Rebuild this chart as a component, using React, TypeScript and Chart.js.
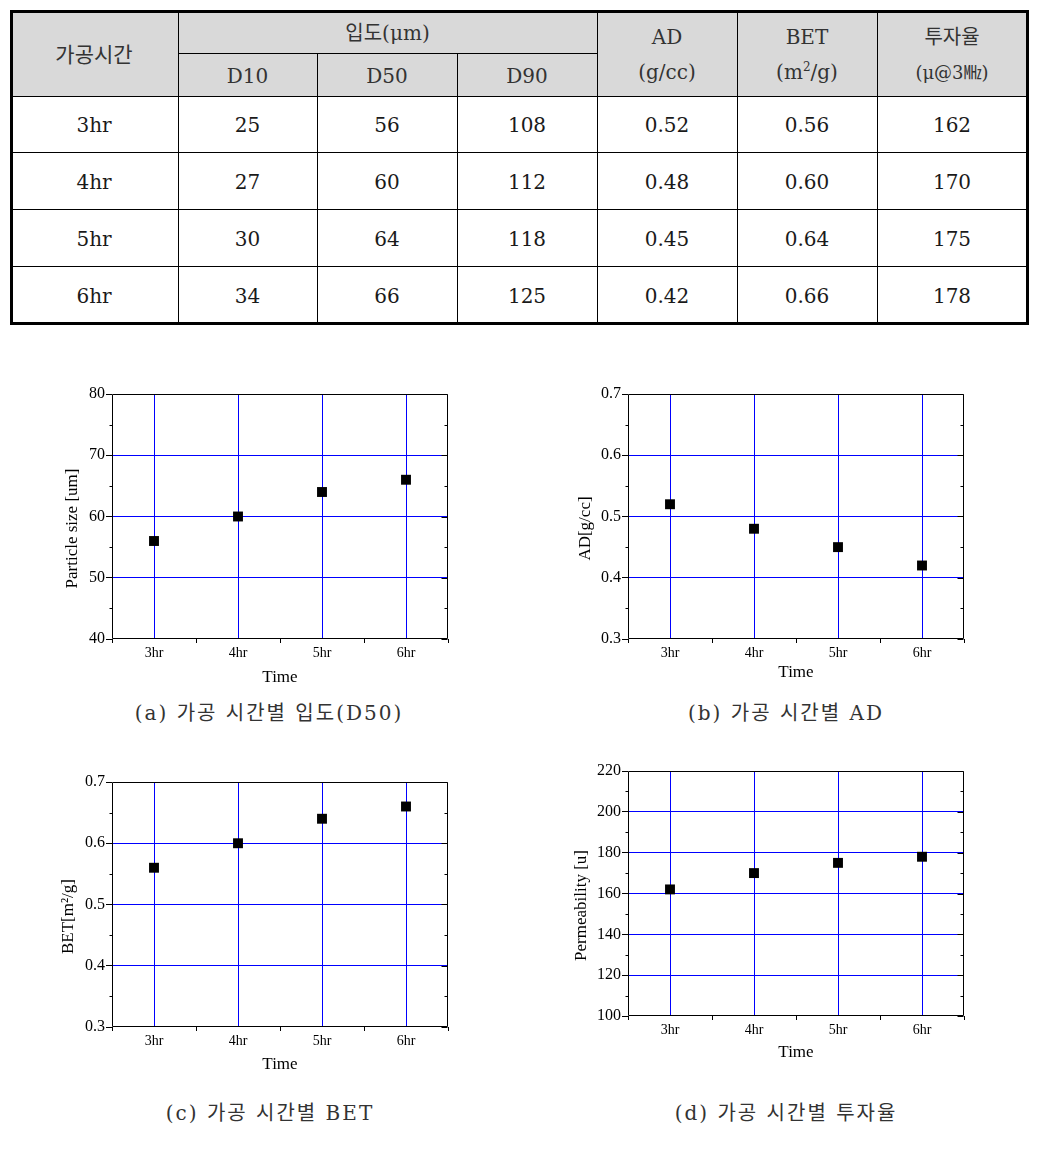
import React, { useEffect, useRef } from "react";
import { Chart, registerables } from "chart.js";

Chart.register(...registerables);

// ---------------- data ----------------
const timeLabels = ["3hr", "4hr", "5hr", "6hr"];
const timeHours = [3, 4, 5, 6];
const d10Values = [25, 27, 30, 34];
const d50Values = [56, 60, 64, 66];
const d90Values = [108, 112, 118, 125];
const adValues = [0.52, 0.48, 0.45, 0.42];
const betValues = [0.56, 0.6, 0.64, 0.66];
const permValues = [162, 170, 175, 178];

const FONT = '"Liberation Serif", "Times New Roman", serif';
const TABLE_FONT = '"DejaVu Serif", "Noto Sans CJK KR", serif';

type PanelSpec = {
  values: number[];
  yMin: number;
  yMax: number;
  yMinor: number;
  yMajor: number;
  decimals: number;
  yTitle: string;
  caption: string;
};

const panels: PanelSpec[] = [
  { values: d50Values, yMin: 40, yMax: 80, yMinor: 5, yMajor: 10, decimals: 0, yTitle: "Particle size [um]", caption: "(a) 가공 시간별 입도(D50)" },
  { values: adValues, yMin: 0.3, yMax: 0.7, yMinor: 0.05, yMajor: 0.1, decimals: 1, yTitle: "AD[g/cc]", caption: "(b) 가공 시간별 AD" },
  { values: betValues, yMin: 0.3, yMax: 0.7, yMinor: 0.05, yMajor: 0.1, decimals: 1, yTitle: "BET[m²/g]", caption: "(c) 가공 시간별 BET" },
  { values: permValues, yMin: 100, yMax: 220, yMinor: 10, yMajor: 20, decimals: 0, yTitle: "Permeability [u]", caption: "(d) 가공 시간별 투자율" },
];

const layouts = [
  { left: 50, top: 382, yWidth: 62, yTitleX: 23, xTitleY: 296, capX: 269, capY: 713 },
  { left: 560, top: 382, yWidth: 68, yTitleX: 26, xTitleY: 291, capX: 786, capY: 713 },
  { left: 50, top: 770, yWidth: 62, yTitleX: 19, xTitleY: 295, capX: 270, capY: 1113 },
  { left: 560, top: 759, yWidth: 68, yTitleX: 22, xTitleY: 294, capX: 786, capY: 1113 },
];

const PLOT_W = 336;
const PLOT_H = 245;
const PAD_TOP = 12;
const PAD_RIGHT = 12;
const X_BOX_H = 52;
const CANVAS_H = PAD_TOP + PLOT_H + X_BOX_H;

const isMajor = (v: number, step: number) => Math.abs(v / step - Math.round(v / step)) < 1e-6;

const framePlugin = {
  id: "frame",
  afterDraw(chart: any, _args: any, opts: any) {
    const { ctx, chartArea: a } = chart;
    const ys = chart.scales.y;
    const major = opts.major;
    ctx.save();
    ctx.strokeStyle = "#000";
    ctx.lineWidth = 1;
    const L = Math.round(a.left) + 0.5;
    const R = Math.round(a.right) - 0.5;
    const T = Math.round(a.top) + 0.5;
    const B = Math.round(a.bottom) - 0.5;
    ctx.beginPath();
    ctx.rect(L, T, R - L, B - T);
    ctx.stroke();
    ys.ticks.forEach((t: any) => {
      const y = Math.round(ys.getPixelForValue(t.value)) + 0.5;
      const mj = isMajor(t.value, major);
      ctx.beginPath();
      ctx.moveTo(R, y);
      ctx.lineTo(R - (mj ? 6 : 3), y);
      ctx.stroke();
      if (!mj) {
        ctx.beginPath();
        ctx.moveTo(L, y);
        ctx.lineTo(L - 3, y);
        ctx.stroke();
      }
    });
    ctx.restore();
  },
};

const yTitlePlugin = {
  id: "yTitle",
  afterDraw(chart: any, _args: any, opts: any) {
    if (!opts || !opts.text) return;
    const { ctx, chartArea: a } = chart;
    ctx.save();
    ctx.translate(opts.x, (a.top + a.bottom) / 2 + opts.shift);
    ctx.rotate(-Math.PI / 2);
    ctx.font = `${opts.size}px ${FONT}`;
    ctx.fillStyle = "#000";
    ctx.textAlign = "center";
    ctx.textBaseline = "middle";
    ctx.fillText(opts.text, 0, 0);
    ctx.restore();
  },
};

function ChartPanel({ spec, lay }: { spec: PanelSpec; lay: (typeof layouts)[number] }) {
  const ref = useRef<HTMLCanvasElement>(null);
  const width = lay.yWidth + PLOT_W + PAD_RIGHT;
  useEffect(() => {
    const xTitleOffset = CANVAS_H - lay.xTitleY;
    const chart = new Chart(ref.current as HTMLCanvasElement, {
      type: "scatter",
      data: {
        datasets: [
          {
            data: timeHours.map((h, i) => ({ x: h, y: spec.values[i] })),
            pointStyle: "rect",
            pointRadius: 7,
            pointHoverRadius: 7,
            backgroundColor: "#000",
            borderColor: "#000",
            borderWidth: 0,
            showLine: false,
          },
        ],
      },
      options: {
        animation: false,
        responsive: false,
        devicePixelRatio: 1,
        events: [],
        layout: { padding: { left: 0, top: PAD_TOP, right: PAD_RIGHT, bottom: 0 } },
        plugins: {
          legend: { display: false },
          tooltip: { enabled: false },
          frame: { major: spec.yMajor },
          yTitle: { text: spec.yTitle, x: lay.yTitleX, shift: 12, size: 17 },
        } as any,
        scales: {
          x: {
            type: "linear",
            min: timeHours[0] - 0.5,
            max: timeHours[timeHours.length - 1] + 0.5,
            afterFit: (s: any) => {
              s.height = X_BOX_H;
            },
            border: { display: false },
            grid: {
              color: (c: any) =>
                timeHours.includes(c.tick.value) ? "#0000ff" : "rgba(0,0,0,0)",
              lineWidth: 1,
              tickLength: 4,
              tickColor: (c: any) => (isMajor(c.tick.value, 1) ? "rgba(0,0,0,0)" : "#000"),
            },
            ticks: {
              stepSize: 0.5,
              autoSkip: false,
              maxRotation: 0,
              padding: 2,
              color: "#000",
              font: { family: FONT, size: 14 },
              callback: (v: any) => {
                const idx = timeHours.indexOf(Number(v));
                return idx >= 0 ? timeLabels[idx] : "";
              },
            },
            title: {
              display: true,
              text: "Time",
              color: "#000",
              font: { family: FONT, size: 17, lineHeight: 1.2 },
              padding: { top: 0, bottom: Math.max(0, xTitleOffset - 10.2) },
            },
          },
          y: {
            type: "linear",
            min: spec.yMin,
            max: spec.yMax,
            afterFit: (s: any) => {
              s.width = lay.yWidth;
            },
            border: { display: false },
            grid: {
              color: (c: any) =>
                isMajor(c.tick.value, spec.yMajor) &&
                Math.abs(c.tick.value - spec.yMin) > 1e-9 &&
                Math.abs(c.tick.value - spec.yMax) > 1e-9
                  ? "#0000ff"
                  : "rgba(0,0,0,0)",
              lineWidth: 1,
              tickLength: 6,
              tickColor: (c: any) => (isMajor(c.tick.value, spec.yMajor) ? "#000" : "rgba(0,0,0,0)"),
            },
            ticks: {
              stepSize: spec.yMinor,
              autoSkip: false,
              padding: 1,
              color: "#000",
              font: { family: FONT, size: 16 },
              callback: (v: any) =>
                isMajor(Number(v), spec.yMajor) ? Number(v).toFixed(spec.decimals) : "",
            },
          },
        },
      },
      plugins: [framePlugin, yTitlePlugin],
    } as any);
    return () => chart.destroy();
  }, []);
  return (
    <>
      <canvas
        ref={ref}
        width={width}
        height={CANVAS_H}
        style={{ position: "absolute", left: lay.left, top: lay.top, width, height: CANVAS_H }}
      />
      <div
        style={{
          position: "absolute",
          left: lay.capX - 200,
          top: lay.capY - 14,
          width: 400,
          height: 28,
          lineHeight: "28px",
          textAlign: "center",
          fontFamily: TABLE_FONT,
          fontSize: 20,
          letterSpacing: 2,
          color: "#333",
          whiteSpace: "pre",
        }}
      >
        {spec.caption}
      </div>
    </>
  );
}

// ---------------- table ----------------
const colX = [10, 178, 317, 457, 597, 737, 877, 1027];
const rowY = [10, 53, 96, 152, 209, 266, 323];

function Line({ l, t, w, h }: { l: number; t: number; w: number; h: number }) {
  return <div style={{ position: "absolute", left: l, top: t, width: w, height: h, background: "#000" }} />;
}

function Cell({
  x0, x1, y0, y1, children, style,
}: {
  x0: number; x1: number; y0: number; y1: number; children: React.ReactNode; style?: React.CSSProperties;
}) {
  return (
    <div
      style={{
        position: "absolute",
        left: x0,
        top: y0,
        width: x1 - x0,
        height: y1 - y0,
        display: "flex",
        alignItems: "center",
        justifyContent: "center",
        textAlign: "center",
        fontFamily: TABLE_FONT,
        fontSize: 20,
        color: "#1a1a1a",
        ...style,
      }}
    >
      {children}
    </div>
  );
}

function DataTable() {
  const rows = timeLabels.map((t, i) => [
    t,
    String(d10Values[i]),
    String(d50Values[i]),
    String(d90Values[i]),
    adValues[i].toFixed(2),
    betValues[i].toFixed(2),
    String(permValues[i]),
  ]);
  return (
    <>
      <div style={{ position: "absolute", left: colX[0], top: rowY[0], width: colX[7] - colX[0], height: rowY[2] - rowY[0], background: "#d9d9d9" }} />
      {[1, 4, 5, 6].map((c) => (
        <Line key={"v" + c} l={colX[c]} t={rowY[0]} w={1} h={rowY[6] - rowY[0]} />
      ))}
      {[2, 3].map((c) => (
        <Line key={"vv" + c} l={colX[c]} t={rowY[1]} w={1} h={rowY[6] - rowY[1]} />
      ))}
      <Line l={colX[1]} t={rowY[1]} w={colX[4] - colX[1]} h={1} />
      {[2, 3, 4, 5].map((r) => (
        <Line key={"h" + r} l={colX[0]} t={rowY[r]} w={colX[7] - colX[0]} h={1} />
      ))}
      <div
        style={{
          position: "absolute",
          left: colX[0],
          top: rowY[0],
          width: colX[7] - colX[0] + 2,
          height: rowY[6] - rowY[0] + 2,
          border: "3px solid #000",
          boxSizing: "border-box",
        }}
      />
      <Cell x0={colX[0]} x1={colX[1]} y0={rowY[0]} y1={rowY[2]} style={{ color: "#333", fontSize: 21 }}>가공시간</Cell>
      <Cell x0={colX[1]} x1={colX[4]} y0={rowY[0]} y1={rowY[1]} style={{ color: "#333" }}>입도(μm)</Cell>
      {["D10", "D50", "D90"].map((d, i) => (
        <Cell key={d} x0={colX[1 + i]} x1={colX[2 + i]} y0={rowY[1]} y1={rowY[2]} style={{ color: "#333", paddingTop: 2, boxSizing: "border-box" }}>{d}</Cell>
      ))}
      <Cell x0={colX[4]} x1={colX[5]} y0={rowY[0]} y1={rowY[2]} style={{ color: "#333", lineHeight: "35px", paddingTop: 3, boxSizing: "border-box" }}>
        <div>AD<br />(g/cc)</div>
      </Cell>
      <Cell x0={colX[5]} x1={colX[6]} y0={rowY[0]} y1={rowY[2]} style={{ color: "#333", lineHeight: "35px", paddingTop: 3, boxSizing: "border-box" }}>
        <div>BET<br />(m<sup style={{ fontSize: 12, lineHeight: 0 }}>2</sup>/g)</div>
      </Cell>
      <Cell x0={colX[6]} x1={colX[7]} y0={rowY[0]} y1={rowY[2]} style={{ color: "#333", lineHeight: "35px", paddingTop: 3, boxSizing: "border-box" }}>
        <div>투자율<br /><span style={{ fontSize: 18 }}>(μ@3㎒)</span></div>
      </Cell>
      {rows.map((r, ri) =>
        r.map((v, ci) => (
          <Cell key={ri + "-" + ci} x0={colX[ci]} x1={colX[ci + 1]} y0={rowY[2 + ri]} y1={rowY[3 + ri]} style={{ paddingTop: 2, boxSizing: "border-box" }}>{v}</Cell>
        ))
      )}
    </>
  );
}

export default function App() {
  return (
    <div style={{ position: "absolute", left: 0, top: 0, width: 1044, height: 1156, background: "#fff", overflow: "hidden" }}>
      <DataTable />
      {panels.map((p, i) => (
        <ChartPanel key={i} spec={p} lay={layouts[i]} />
      ))}
    </div>
  );
}
